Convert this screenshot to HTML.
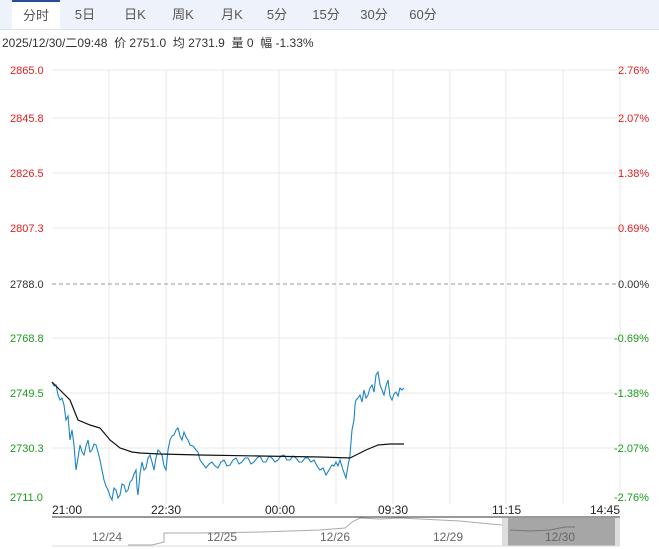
<!DOCTYPE html>
<html><head><meta charset="utf-8"><style>
body{margin:0;background:#fff;width:659px;height:549px;overflow:hidden;font-family:"Liberation Sans","Noto Sans CJK SC",sans-serif;}
.tabs{position:absolute;left:0;top:0;width:659px;height:29px;background:#eef2fa;border-bottom:1px solid #dde3ee;}
.tab{position:absolute;top:0;height:29px;line-height:29px;font-size:13px;color:#555;text-align:center;}
.info{position:absolute;left:2px;top:34px;font-size:12px;color:#333;}
</style></head><body>
<div class="tabs">
<div class="tab" style="left:12px;width:48px;background:#fff;border-top:2px solid #2a4a9a;height:27px;line-height:27px">分时</div>
<div class="tab" style="left:65px;width:40px">5日</div>
<div class="tab" style="left:115px;width:40px">日K</div>
<div class="tab" style="left:163px;width:40px">周K</div>
<div class="tab" style="left:212px;width:40px">月K</div>
<div class="tab" style="left:257px;width:40px">5分</div>
<div class="tab" style="left:306px;width:40px">15分</div>
<div class="tab" style="left:354px;width:40px">30分</div>
<div class="tab" style="left:403px;width:40px">60分</div>
</div>
<div class="info">2025/12/30/二09:48 &nbsp;价 2751.0 &nbsp;均 2731.9 &nbsp;量 0 &nbsp;幅 -1.33%</div>
<svg width="659" height="549" style="position:absolute;left:0;top:0" font-family="Liberation Sans, sans-serif" font-size="11">
<g stroke="#e8e8e8" stroke-width="1">
<line x1="52" y1="70" x2="620" y2="70"/><line x1="52" y1="118" x2="620" y2="118"/>
<line x1="52" y1="173" x2="620" y2="173"/><line x1="52" y1="228" x2="620" y2="228"/>
<line x1="52" y1="338" x2="620" y2="338"/><line x1="52" y1="393" x2="620" y2="393"/>
<line x1="52" y1="448" x2="620" y2="448"/>
<line x1="109" y1="70" x2="109" y2="504"/><line x1="166" y1="70" x2="166" y2="504"/>
<line x1="223" y1="70" x2="223" y2="504"/><line x1="279" y1="70" x2="279" y2="504"/>
<line x1="336" y1="70" x2="336" y2="504"/><line x1="393" y1="70" x2="393" y2="504"/>
<line x1="450" y1="70" x2="450" y2="504"/><line x1="506" y1="70" x2="506" y2="504"/>
<line x1="563" y1="70" x2="563" y2="504"/><line x1="620" y1="70" x2="620" y2="504"/>
</g>
<line x1="52" y1="284" x2="620" y2="284" stroke="#999" stroke-dasharray="4,3"/>
<g fill="#e02020"><text x="10" y="74">2865.0</text><text x="10" y="122">2845.8</text><text x="10" y="177">2826.5</text><text x="10" y="232">2807.3</text>
<text x="618" y="74">2.76%</text><text x="618" y="122">2.07%</text><text x="618" y="177">1.38%</text><text x="618" y="232">0.69%</text></g>
<text x="10" y="288" fill="#333">2788.0</text><text x="618" y="288" fill="#333">0.00%</text>
<g fill="#1a9a1a"><text x="10" y="342">2768.8</text><text x="10" y="397">2749.5</text><text x="10" y="452">2730.3</text><text x="10" y="501">2711.0</text>
<text x="614" y="342">-0.69%</text><text x="614" y="397">-1.38%</text><text x="614" y="452">-2.07%</text><text x="614" y="501">-2.76%</text></g>
<polyline fill="none" stroke="#1c84c6" stroke-width="1.1" points="52,382 54,386 56,385 58,395 60,400 62,398 64,405 66,420 68,416 70,440 72,430 74,445 76,470 78,458 80,445 82,452 84,455 86,446 88,440 90,452 92,450 94,444 96,445 98,452 100,460 102,470 104,480 106,486 108,490 110,496 112,500 114,488 116,490 118,498 120,495 122,484 124,485 126,492 128,490 130,482 132,480 134,474 136,470 137,488 138,495 140,474 142,462 144,470 146,468 148,458 150,455 152,462 154,470 156,458 158,450 160,452 162,455 164,466 166,470 168,450 170,440 172,436 174,435 176,430 178,428 180,436 182,440 184,432 186,437 188,440 190,445 193,446 196,450 198,452 200,460 203,464 206,468 209,464 212,462 215,466 218,468 221,462 224,460 227,466 230,465 233,460 236,458 239,464 242,462 245,458 248,458 251,464 254,462 257,458 260,456 263,462 266,462 269,456 272,458 275,462 278,460 281,456 284,455 287,460 290,460 293,456 296,458 299,462 302,462 305,458 308,458 311,462 314,460 317,466 320,470 323,468 326,475 329,470 332,465 334,466 336,462 338,466 340,460 343,470 346,478 348,466 350,455 352,430 354,420 355,405 356,400 358,398 360,395 362,402 364,390 366,398 368,395 370,388 372,385 374,392 376,375 378,372 380,385 382,390 384,395 386,386 388,380 390,396 392,400 394,394 396,392 398,396 400,388 402,390 404,388"/>
<polyline fill="none" stroke="#111" stroke-width="1.2" points="52,382 60,390 70,400 78,420 90,425 100,428 110,440 120,448 132,452 140,453 160,454 200,455 260,456 320,457 350,458 356,455 366,450 378,445 390,444 404,444"/>
<g fill="#222" font-size="12"><text x="52" y="514">21:00</text><text x="151" y="514">22:30</text><text x="265" y="514">00:00</text><text x="378" y="514">09:30</text><text x="492" y="514">11:15</text><text x="590" y="514">14:45</text></g>
<line x1="52" y1="517" x2="620" y2="517" stroke="#333"/>
<rect x="502" y="518" width="118" height="28" fill="#ddd"/>
<rect x="508" y="518" width="107" height="28" fill="#a6a6a6"/>
<polyline fill="none" stroke="#aaa" points="128,545 152,545 164,542 164,533 200,533 260,532 320,530 345,528 352,522 360,518 380,519 400,518 440,520 460,521 480,523 502,525"/>
<polyline fill="none" stroke="#777" points="510,530 530,531 550,530 565,527 575,527"/>
<line x1="52" y1="546" x2="620" y2="546" stroke="#ddd"/>
<g fill="#666" font-size="12"><text x="92" y="541">12/24</text><text x="207" y="541">12/25</text><text x="320" y="541">12/26</text><text x="433" y="541">12/29</text><text x="545" y="541">12/30</text></g>
</svg>
</body></html>
